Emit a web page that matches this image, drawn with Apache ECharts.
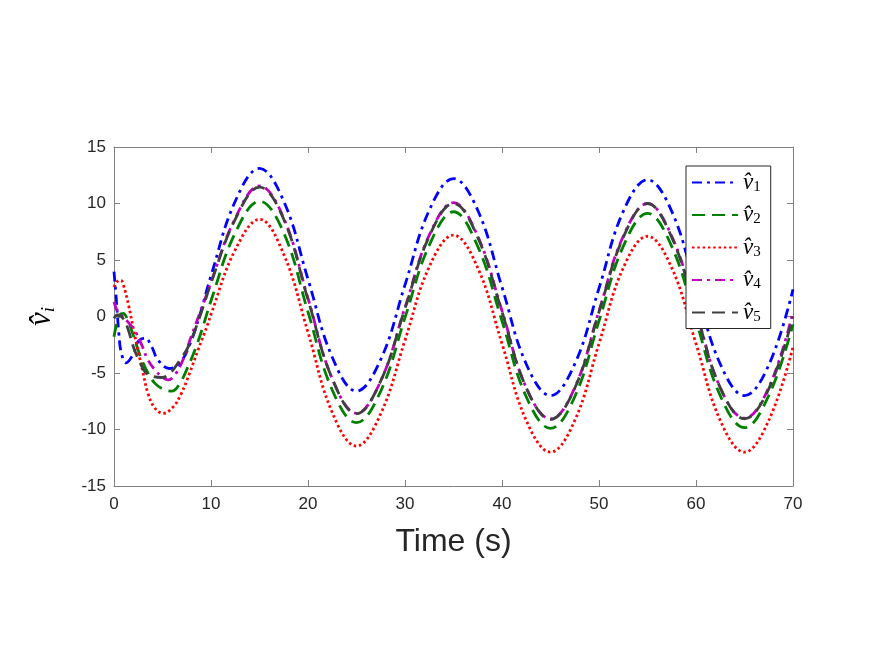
<!DOCTYPE html>
<html>
<head>
<meta charset="utf-8">
<script src="https://cdn.jsdelivr.net/npm/echarts@6/dist/echarts.min.js"></script>
<style>
  html, body { margin: 0; padding: 0; background: #fff; }
  #chart { width: 875px; height: 657px; }
</style>
</head>
<body>
<div id="chart"></div>
<script>
// legend subscripts
const subs = ['1', '2', '3', '4', '5']
const colors = ['#0000ff', '#008000', '#ff0000', '#bf00bf', '#404040']
const dashes = [[10, 5, 3, 5], [13, 7], [2.5, 2.8], [10, 5, 3, 5], [13, 7]]

const xTicks = [0, 10, 20, 30, 40, 50, 60, 70]
const yTicks = [-15, -10, -5, 0, 5, 10, 15]

// time grid after the start transient
const tSteady = [12.5, 15, 17.5, 20, 22.5, 25, 27.5, 30, 32.5, 35, 37.5, 40, 42.5, 45, 47.5, 50, 52.5, 55, 57.5, 60, 62.5, 65, 67.5, 70]

// v1 (blue)
const t1 = [0, 0.25, 0.5, 0.75, 1.25, 2, 2.5, 3.2, 3.9, 4.5, 5.7, 6.8, 7.8, 8.8, 10]
const v1 = [3.97, 1.4, -1.5, -3.2, -4.1, -3.3, -2.2, -1.9, -2.7, -3.8, -4.6, -4.1, -2.5, 0.0, 3.6,
  10.2, 13.1, 10.2, 3.3, -3.6, -6.6, -3.8, 2.8, 9.4, 12.2, 9.4, 2.6, -4.2, -7.0, -4.2, 2.5, 9.3, 12.1, 9.3, 2.5, -4.2, -7.0, -4.3, 2.4]

// v2 (green)
const t2 = [0, 0.25, 0.6, 0.95, 1.45, 2, 2.5, 3, 3.5, 4.2, 5, 6, 6.8, 7.6, 8.5, 9.35, 10]
const v2 = [-1.8, -0.75, 0.15, 0.28, -0.4, -1.7, -3.0, -4.1, -5.0, -5.9, -6.4, -6.6, -5.9, -4.5, -2.6, -0.4, 1.4,
  7.4, 10.2, 7.4, 0.4, -6.5, -9.4, -6.6, -0.1, 6.3, 9.27, 6.2, -0.4, -7.1, -9.9, -7.1, -0.4, 6.2, 9.13, 6.2, -0.4, -7.0, -9.84, -7.0, -0.7]

// v3 (red)
const t3 = [0, 0.35, 0.7, 1, 1.5, 2, 2.5, 3, 3.5, 4.2, 5.05, 6.1, 6.95, 7.8, 8.65, 9.7, 10]
const v3 = [2.6, 3.1, 3.2, 2.7, 1.0, -1.1, -3.1, -5.0, -6.8, -8.1, -8.57, -8.0, -6.8, -5.0, -3.0, -0.6, 0.2,
  5.9, 8.6, 5.5, -1.4, -8.5, -11.46, -8.6, -2.1, 4.4, 7.2, 4.3, -2.4, -9.2, -12.0, -9.2, -2.4, 4.3, 7.1, 4.3, -2.4, -9.2, -12.0, -9.2, -2.7]

// v4 (magenta)
const t4 = [0, 0.4, 0.9, 1.45, 2.1, 2.8, 3.5, 4.2, 4.9, 5.6, 6.25, 7.1, 7.95, 8.85, 9.7, 10]
const v4 = [1.3, 0.4, 0.0, -0.5, -1.2, -2.4, -3.85, -4.7, -5.3, -5.6, -5.2, -3.85, -1.8, 0.3, 2.3, 3.05,
  8.7, 11.55, 8.7, 1.6, -5.5, -8.57, -5.7, 0.8, 7.2, 10.07, 7.1, 0.5, -6.3, -9.07, -6.3, 0.5, 7.1, 10.0, 7.1, 0.5, -6.3, -9.0, -6.3, 0.4]

// v5 (dark grey)
const t5 = [0, 0.35, 0.96, 1.48, 2, 2.7, 3.3, 4, 4.9, 5.7, 6.8, 7.7, 8.85, 9.7, 10]
const v5 = [-0.16, 0.15, -0.2, -1.2, -2.7, -4.1, -5.0, -5.3, -5.4, -5.1, -3.85, -2.6, 0.0, 2.2, 3.0,
  8.6, 11.45, 8.6, 1.5, -5.5, -8.6, -5.7, 0.7, 7.1, 10.0, 7.0, 0.4, -6.3, -9.1, -6.35, 0.4, 7.0, 10.0, 7.0, 0.4, -6.3, -9.05, -6.4, 0.0]

const times = [t1, t2, t3, t4, t5].map(t => t.concat(tSteady))
const values = [v1, v2, v3, v4, v5]

const axisFont = 'Liberation Sans, Arial, sans-serif'
const mathFont = 'Liberation Serif, DejaVu Serif, serif'

const chart = echarts.init(document.getElementById('chart'))

function frameAxis(pos, isX) {
  return {
    type: 'value',
    position: pos,
    min: isX ? 0 : -15,
    max: isX ? 70 : 15,
    interval: isX ? 10 : 5,
    axisLine: { show: true, onZero: false, lineStyle: { color: '#808080', width: 1 } },
    axisTick: { show: true, inside: true, length: 6, lineStyle: { color: '#808080' } },
    axisLabel: { show: false },
    splitLine: { show: false }
  }
}

chart.setOption({
  backgroundColor: '#fff',
  animation: false,
  grid: { left: 114, right: 82, top: 147, bottom: 171 },
  legend: {
    orient: 'vertical',
    left: 686,
    top: 166,
    padding: [5, 10, 4, 5],
    itemGap: 9,
    itemWidth: 46,
    itemHeight: 14,
    backgroundColor: '#fff',
    borderColor: '#262626',
    borderWidth: 1,
    borderRadius: 0,
    itemStyle: { color: 'rgba(0,0,0,0)', borderColor: 'rgba(0,0,0,0)', borderWidth: 0 },
    data: subs.map(s => 'v' + s),
    formatter: name => '{v|v\u0302}{s|' + name.slice(1) + '}',
    textStyle: {
      rich: {
        v: { fontFamily: mathFont, fontStyle: 'italic', fontSize: 23, lineHeight: 24, color: '#000' },
        s: { fontFamily: mathFont, fontSize: 15, lineHeight: 12, verticalAlign: 'bottom', color: '#000' }
      }
    }
  },
  xAxis: [
    {
      type: 'value',
      min: 0,
      max: 70,
      interval: 10,
      name: 'Time (s)',
      nameLocation: 'middle',
      nameGap: 40,
      nameTextStyle: { fontFamily: axisFont, fontSize: 32, color: '#262626' },
      axisLine: { show: true, onZero: false, lineStyle: { color: '#808080', width: 1 } },
      axisTick: { show: true, inside: true, length: 6, lineStyle: { color: '#808080' } },
      axisLabel: {
        margin: 10,
        fontFamily: axisFont,
        fontSize: 17,
        color: '#262626',
        customValues: xTicks
      },
      splitLine: { show: false }
    },
    frameAxis('top', true)
  ],
  yAxis: [
    {
      type: 'value',
      min: -15,
      max: 15,
      interval: 5,
      name: '{v|v\u0302}{s|i}',
      nameLocation: 'middle',
      nameGap: 56,
      nameRotate: 90,
      nameTextStyle: {
        rich: {
          v: { fontFamily: mathFont, fontStyle: 'italic', fontSize: 31, lineHeight: 32, color: '#000' },
          s: { fontFamily: mathFont, fontStyle: 'italic', fontSize: 19, lineHeight: 16, verticalAlign: 'bottom', color: '#000' }
        }
      },
      axisLine: { show: true, onZero: false, lineStyle: { color: '#808080', width: 1 } },
      axisTick: { show: true, inside: true, length: 6, lineStyle: { color: '#808080' } },
      axisLabel: {
        margin: 8,
        fontFamily: axisFont,
        fontSize: 17,
        color: '#262626',
        customValues: yTicks
      },
      splitLine: { show: false }
    },
    frameAxis('right', false)
  ],
  series: values.map((v, i) => ({
    name: 'v' + subs[i],
    type: 'line',
    xAxisIndex: 0,
    yAxisIndex: 0,
    symbol: 'none',
    showSymbol: false,
    smooth: 0.4,
    data: v.map((y, k) => [times[i][k], y]),
    lineStyle: { color: colors[i], width: 2.8, type: dashes[i], cap: 'butt' },
    itemStyle: { color: colors[i] }
  }))
})
</script>
</body>
</html>
